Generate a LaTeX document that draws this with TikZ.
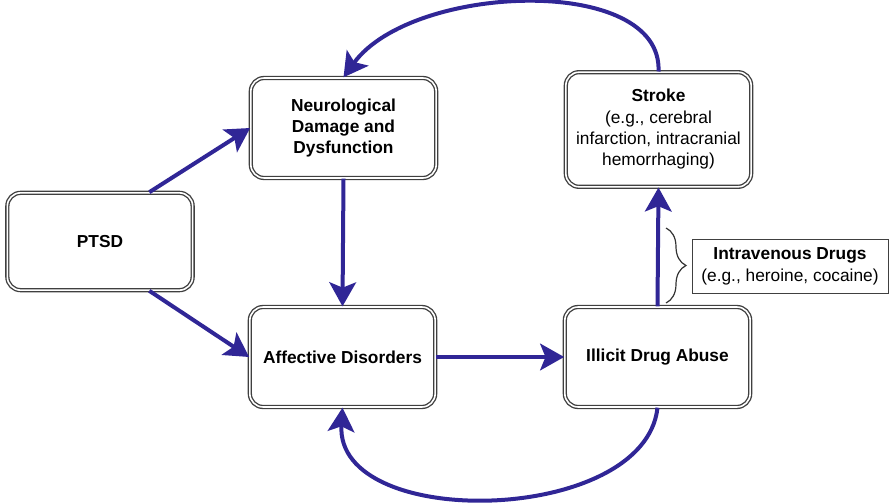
\documentclass[tikz,border=0pt]{standalone}
\usepackage{fontspec}
\setmainfont{Liberation Sans}
\usetikzlibrary{arrows.meta, decorations.pathreplacing}

\begin{document}
\begin{tikzpicture}[x=0.75pt, y=-0.75pt, font=\fontsize{13}{16}\selectfont, >={Stealth[length=18pt, width=20pt, inset=4pt]},
  box/.style={draw=black!75, line width=1pt, double=white, double distance=1.2pt, rounded corners=10pt, align=center, minimum width=139pt, minimum height=75pt, fill=white, font=\fontsize{13}{16}\selectfont\bfseries},
  flow/.style={->, draw=flowblue, line width=3pt},
  note/.style={draw=black!75, line width=0.7pt, align=center, minimum width=147pt, minimum height=40pt}]
  \definecolor{flowblue}{RGB}{48,38,150}
  \useasboundingbox (0,0) rectangle (890,503);
  \node[box, minimum height=73pt] (ptsd) at (100,241.5) {PTSD};
  \node[box] (neuro) at (343.5,128) {Neurological\\ Damage and\\ Dysfunction};
  \node[box] (affective) at (342.5,357) {Affective Disorders};
  \node[box] (illicit) at (657.5,357) {Illicit Drug Abuse};
  \node[box, minimum height=86pt, font=\fontsize{13}{16}\selectfont] (stroke) at (658.5,129.5) {\textbf{Stroke}\\ (e.g., cerebral\\ infarction, intracranial\\ hemorrhaging)};
  \node[note] (ivdrugs) at (790,266.5) {\textbf{Intravenous Drugs}\\ (e.g., heroine, cocaine)};
  \coordinate (bracetop) at (666,228);
  \coordinate (bracebot) at (666,303);
  \draw[flow] (ptsd.45) -- (neuro.west);
  \draw[flow] (ptsd.-45) -- (affective.west);
  \draw[flow] (neuro.south) -- (affective.north);
  \draw[flow] (affective.east) -- (illicit.west);
  \draw[flow] (illicit.north) -- (stroke.south);
  \draw[flow] (stroke.north) .. controls (663,-26) and (412,-17) .. (neuro.north);
  \draw[flow] (illicit.south) .. controls (645,525) and (335,532) .. (affective.south);
  \draw[black!80, line width=0.9pt, decorate, decoration={brace, amplitude=15pt}] (bracetop) -- (bracebot);
\end{tikzpicture}
\end{document}
